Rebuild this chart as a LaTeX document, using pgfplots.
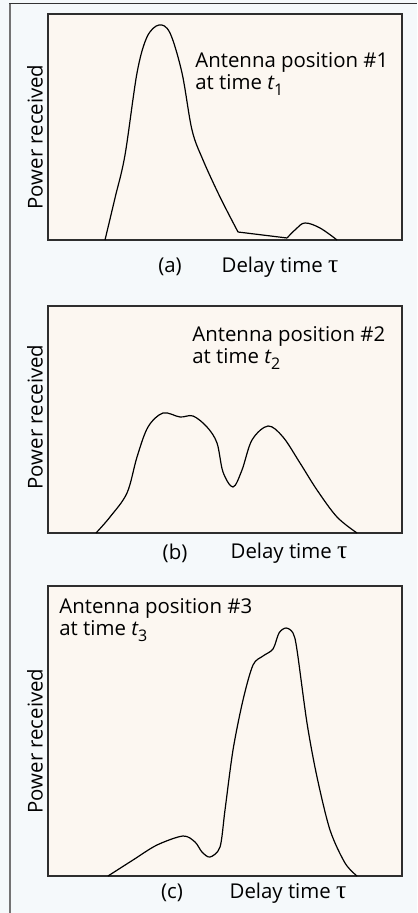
\documentclass[border=0pt]{standalone}
\usepackage{pgfplots}
\pgfplotsset{compat=1.18}
\usepackage{fontspec}
\setmainfont{Open Sans}
\newfontfamily\taufont[Scale=1.25]{Liberation Serif}
\definecolor{outerbg}{HTML}{F5F9FB}
\definecolor{panelbg}{HTML}{FCF7F1}
\definecolor{boxline}{HTML}{2E2E2E}
\newcommand{\lbl}{\fontsize{10.2}{11.2}\selectfont}
\newcommand{\sub}[1]{\raisebox{-0.55ex}{\fontsize{8}{8}\selectfont #1}}
\tikzset{lab/.style={font=\lbl, inner sep=0pt}}
\begin{document}
\begin{tikzpicture}
\useasboundingbox (0,0) rectangle (208.5pt,-456.5pt);
\fill[outerbg] (0,0) rectangle (208.5pt,-456.5pt);
\draw[black!80, line width=0.5pt] (4.5pt,-2pt) -- (208.5pt,-2pt);
\draw[black!55, line width=0.9pt] (5pt,-2pt) -- (5pt,-456.5pt);
\pgfplotsset{panel/.style={scale only axis, width=177pt, xmin=48, xmax=402, ymin=0,
  xtick=\empty, ytick=\empty, axis line style={boxline, line width=0.8pt},
  axis background/.style={fill=panelbg}, clip=false,
  every axis plot/.append style={black, line width=0.6pt, no markers}}}
% Panel (a)
\begin{axis}[panel, height=113pt, ymax=226, at={(24pt,-120pt)}, anchor=south west]
\addplot[smooth, tension=0.55] coordinates {(105,0)(115,42)(125,85)(137,167)(147,203)(159,215)(170,207)(182,167)(192,110)(203,80)(220,43)(238,8)};
\addplot[sharp plot] coordinates {(238,8)(287,2)};
\addplot[smooth, tension=0.6] coordinates {(287,2)(296,11)(305,17)(320,12)(337,0)};
\node[lab, anchor=north west, align=left] at (axis cs:195,188) {Antenna position \#1\\at time {\itshape t}\sub{1}};
\node[lab] at (axis cs:170,-27) {(a)};
\node[lab] at (axis cs:280,-27) {Delay time {\taufont τ}};
\node[lab, rotate=90] at (axis cs:35,103) {Power received};
\end{axis}
% Panel (b)
\begin{axis}[panel, height=113.5pt, ymax=227, at={(24pt,-266.5pt)}, anchor=south west]
\addplot[smooth, tension=0.55] coordinates {(96,0)(110,16)(127,40)(137,76)(148,106)(163,120)(180,116)(193,117)(207,106)(217,90)(223,61)(233,46)(242,63)(252,93)(268,107)(283,96)(300,70)(317,43)(337,16)(357,0)};
\node[lab, anchor=north west, align=left] at (axis cs:192,207) {Antenna position \#2\\at time {\itshape t}\sub{2}};
\node[lab] at (axis cs:175,-20) {(b)};
\node[lab] at (axis cs:289,-20) {Delay time {\taufont τ}};
\node[lab, rotate=90] at (axis cs:35,116) {Power received};
\end{axis}
% Panel (c)
\begin{axis}[panel, height=145pt, ymax=290, at={(24pt,-438pt)}, anchor=south west]
\addplot[smooth, tension=0.5] coordinates {(108,0)(133,16)(157,31)(183,40)(195,34)(202,24)(210,19)(220,29)(225,66)(233,126)(243,176)(253,211)(263,220)(273,227)(279,243)(286,248)(293,243)(297,226)(307,153)(317,99)(330,46)(345,13)(357,0)};
\node[lab, anchor=north west, align=left] at (axis cs:59,278) {Antenna position \#3\\at time {\itshape t}\sub{3}};
\node[lab] at (axis cs:172,-17) {(c)};
\node[lab] at (axis cs:288,-17) {Delay time {\taufont τ}};
\node[lab, rotate=90] at (axis cs:35,135) {Power received};
\end{axis}
\end{tikzpicture}
\end{document}
